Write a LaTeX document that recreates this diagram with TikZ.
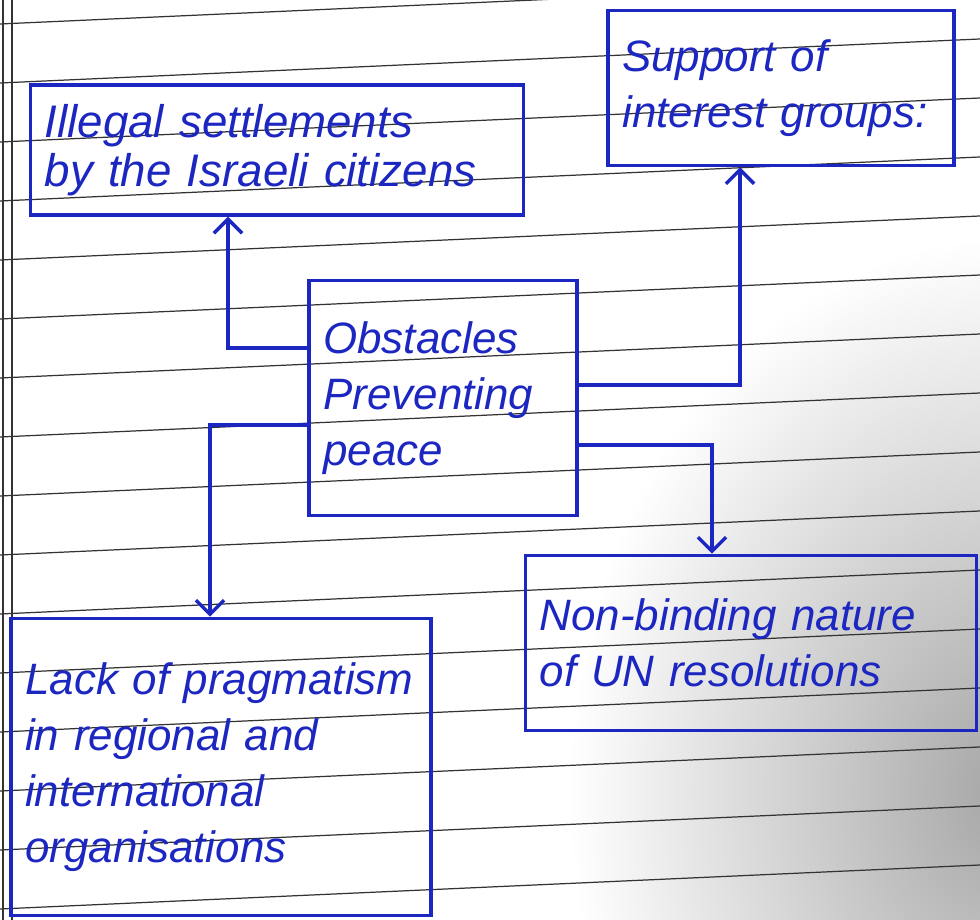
\documentclass[tikz,border=0pt]{standalone}
\usepackage{xcolor}
\usepackage{fontspec}
\setmainfont{Liberation Sans}
\usepackage{tikz}
\usetikzlibrary{calc,arrows.meta}
\definecolor{ink}{RGB}{28,38,192}

\begin{document}
\begin{tikzpicture}[
 box/.style={
    rectangle,
    draw=ink,
    line width=2pt,
    text=ink,
    align=left,
    font=\fontsize{25}{32}\selectfont\itshape,
    inner xsep=8pt,
    inner ysep=5pt
   },
 rule/.style={
    draw=black!80,
    line width=0.7pt
   },
 arrow/.style={
    draw=ink,
    line width=2pt,
    -{Straight Barb[length=8pt,width=16pt]}
   }
 ]
 \useasboundingbox (-8.86,-10.44) rectangle (10.74,7.96);

 %stín
 \shade[inner color=black!35, outer color=white] (2.5,-19) rectangle (20,3.2);

 %linky
 \foreach \k in {0,...,15}
   \draw[rule] (-8.86,{7.48-1.18*\k}) -- (10.74,{8.36-1.18*\k});
 \draw[rule] (-8.80,-10.44) -- (-8.80,7.96);
 \draw[rule] (-8.62,-10.44) -- (-8.62,7.96);

 %střed
 \node[box, text width=4.79cm, minimum height=4.7cm] (obst) at (0,0) {Obstacles\\Preventing\\peace};

 %osady
 \node[box, text width=9.29cm, minimum height=2.6cm, font=\fontsize{26}{28}\selectfont\itshape] (illegal) at ($(obst)+(-3.32,4.96)$) {Illegal settlements\\by the Israeli citizens};
 %skupiny
 \node[box, text width=6.35cm, minimum height=3.1cm] (support) at ($(obst)+(6.76,6.2)$) {Support of\\interest groups:};

 %pragmatismus
 \node[box, text width=7.83cm, minimum height=5.94cm] (lack) at ($(obst)+(-4.44,-7.38)$) {Lack of pragmatism\\in regional and\\international\\organisations};
 %rezoluce
 \node[box, text width=8.45cm, minimum height=3.5cm] (nonbind) at ($(obst)+(6.16,-4.9)$) {Non-binding nature\\of UN resolutions};

 %šipky
 \draw[arrow] ([yshift=1.0cm]obst.west) -| ([xshift=-0.98cm]illegal.south);
 \draw[arrow] ([yshift=0.26cm]obst.east) -| ([xshift=-0.82cm]support.south);
 \draw[arrow] ([yshift=-0.54cm]obst.west) -| ([xshift=-0.22cm]lack.north);
 \draw[arrow] ([yshift=-0.94cm]obst.east) -| ([xshift=-0.78cm]nonbind.north);
\end{tikzpicture}
\end{document}
